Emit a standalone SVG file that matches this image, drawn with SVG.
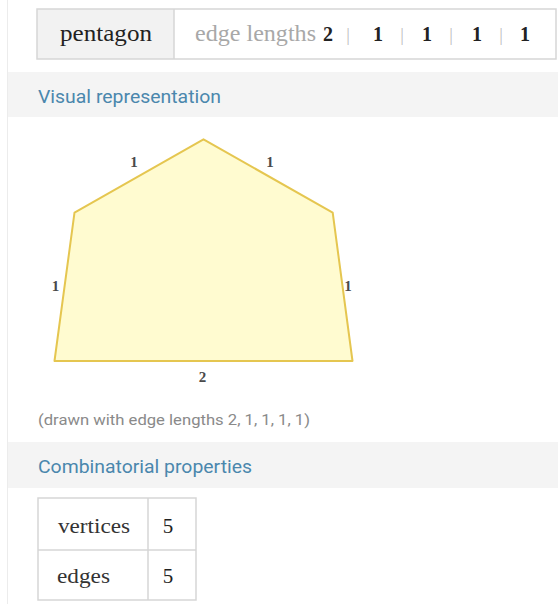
<svg xmlns="http://www.w3.org/2000/svg" width="558" height="604" viewBox="0 0 558 604">
<style>
.serif{font-family:"Liberation Serif","DejaVu Serif",serif;}
.sans{font-family:Roboto,"Liberation Sans",sans-serif;}
.hdr{font-size:19px;fill:#4a87ad;}
.cell{fill:none;stroke:#d6d6d6;stroke-width:1.5;}
.lbl{font-family:"Liberation Serif",serif;font-size:15px;font-weight:bold;fill:#4a4a4a;text-anchor:middle;}
.num{font-size:20px;fill:#222;font-weight:bold;}
.bar{font-size:18px;fill:#bdbdbd;}
</style>
<rect width="558" height="604" fill="#fff"/>
<line x1="7.5" y1="0" x2="7.5" y2="604" stroke="#ececec" stroke-width="1"/>
<g id="title-table">
<rect x="37" y="9" width="137" height="50" fill="#f2f2f2"/>
<rect x="37" y="9" width="519" height="50" class="cell"/>
<line x1="174" y1="9" x2="174" y2="59" stroke="#d6d6d6" stroke-width="1.5"/>
<text x="60" y="41" class="serif" font-size="23" fill="#222" textLength="92" lengthAdjust="spacingAndGlyphs">pentagon</text>
<text x="195" y="41" class="serif" font-size="23" fill="#a8a8a8" textLength="121" lengthAdjust="spacingAndGlyphs">edge lengths</text>
<text x="328" y="41" class="serif num" text-anchor="middle">2</text>
<text x="348" y="41" class="serif bar" text-anchor="middle">|</text>
<text x="378" y="41" class="serif num" text-anchor="middle">1</text>
<text x="402" y="41" class="serif bar" text-anchor="middle">|</text>
<text x="427" y="41" class="serif num" text-anchor="middle">1</text>
<text x="451" y="41" class="serif bar" text-anchor="middle">|</text>
<text x="477" y="41" class="serif num" text-anchor="middle">1</text>
<text x="501" y="41" class="serif bar" text-anchor="middle">|</text>
<text x="525" y="41" class="serif num" text-anchor="middle">1</text>
</g>
<g id="section-visual">
<rect x="8" y="72" width="550" height="45" fill="#f4f4f4"/>
<text x="38" y="102.5" class="sans hdr" textLength="183" lengthAdjust="spacingAndGlyphs">Visual representation</text>
</g>
<g id="pentagon">
<polygon points="54.5,361 74.5,212.7 203.5,139.3 332.7,212.7 352.5,361" fill="#fffbd0" stroke="#e5c650" stroke-width="2" stroke-linejoin="round"/>
<text x="134" y="167" class="lbl">1</text>
<text x="270" y="167" class="lbl">1</text>
<text x="55.5" y="291" class="lbl">1</text>
<text x="348" y="291" class="lbl">1</text>
<text x="202.5" y="382" class="lbl">2</text>
</g>
<text x="38" y="425" class="sans" font-size="15.5" fill="#8a8a8a" textLength="272" lengthAdjust="spacingAndGlyphs">(drawn with edge lengths 2, 1, 1, 1, 1)</text>
<g id="section-comb">
<rect x="8" y="442" width="550" height="46" fill="#f4f4f4"/>
<text x="38" y="473" class="sans hdr" textLength="214" lengthAdjust="spacingAndGlyphs">Combinatorial properties</text>
</g>
<g id="props-table">
<rect x="38" y="498" width="158" height="102" class="cell"/>
<line x1="148" y1="498" x2="148" y2="600" stroke="#d6d6d6" stroke-width="1.5"/>
<line x1="38" y1="550" x2="196" y2="550" stroke="#d6d6d6" stroke-width="1.5"/>
<text x="58" y="533" class="serif" font-size="22" fill="#333" textLength="72" lengthAdjust="spacingAndGlyphs">vertices</text>
<text x="168" y="533" class="serif" font-size="21" fill="#222" text-anchor="middle">5</text>
<text x="57" y="583" class="serif" font-size="22" fill="#333" textLength="53" lengthAdjust="spacingAndGlyphs">edges</text>
<text x="168" y="583" class="serif" font-size="21" fill="#222" text-anchor="middle">5</text>
</g>
</svg>
